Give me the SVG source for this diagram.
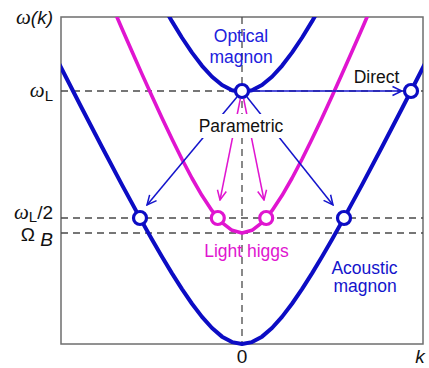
<svg xmlns="http://www.w3.org/2000/svg" width="429" height="368" viewBox="0 0 429 368">
<style>
.frame{fill:none;stroke:#6e6e6e;stroke-width:1.5}
.dash{fill:none;stroke:#4a4a4a;stroke-width:1.3;stroke-dasharray:7 5}
.blue{fill:none;stroke:#0c0cc4;stroke-width:4;stroke-linejoin:round;stroke-linecap:round}
.pink{fill:none;stroke:#e015d0;stroke-width:3.6;stroke-linejoin:round;stroke-linecap:round}
.cb{fill:#fff;stroke:#0c0cc4;stroke-width:3.2}
.cp{fill:#fff;stroke:#e015d0;stroke-width:3.2}
.ab{fill:none;stroke:#1414cc;stroke-width:1.5}
.ap{fill:none;stroke:#e015d0;stroke-width:1.5}
.t{font-family:"Liberation Sans",Arial,sans-serif;font-size:17.5px}
.ax{font-family:"Liberation Sans",Arial,sans-serif;font-size:19px;fill:#111}
.gr{font-family:"Liberation Serif","Times New Roman",serif;font-style:italic;font-size:21px;fill:#111}
</style>
<defs>
<clipPath id="clip"><rect x="61" y="17" width="362" height="333"/></clipPath>
<marker id="mb" viewBox="-10 -6 11 12" refX="0" refY="0" markerWidth="11" markerHeight="12" markerUnits="userSpaceOnUse" orient="auto"><path d="M-9.5,-4.5 L0,0 L-9.5,4.5" fill="none" stroke="#1414cc" stroke-width="1.5"/></marker>
<marker id="mp" viewBox="-10 -6 11 12" refX="0" refY="0" markerWidth="11" markerHeight="12" markerUnits="userSpaceOnUse" orient="auto"><path d="M-9.5,-4.5 L0,0 L-9.5,4.5" fill="none" stroke="#e015d0" stroke-width="1.5"/></marker>
</defs>
<rect width="429" height="368" fill="#fff"/>
<g id="axes">
<rect class="frame" x="61" y="17" width="362" height="327"/>
<line class="dash" x1="242" y1="17" x2="242" y2="344"/>
<line class="dash" x1="61" y1="91" x2="423" y2="91"/>
<line class="dash" x1="61" y1="218" x2="423" y2="218"/>
<line class="dash" x1="61" y1="233" x2="423" y2="233"/>
<text class="ax" x="53" y="24" text-anchor="end"><tspan class="gr" font-size="21">ω</tspan><tspan font-style="italic">(k)</tspan></text>
<text class="ax" x="53" y="97" text-anchor="end"><tspan class="gr">ω</tspan><tspan font-size="15" dy="4">L</tspan></text>
<text class="ax" x="53" y="219" text-anchor="end"><tspan class="gr">ω</tspan><tspan font-size="15" dy="3">L</tspan><tspan dy="-3">/2</tspan></text>
<text class="ax" x="53" y="241" text-anchor="end">Ω <tspan font-style="italic" dy="5">B</tspan></text>
<text class="ax" x="242" y="363" text-anchor="middle" font-size="17">0</text>
<text class="ax" x="420" y="363" text-anchor="middle" font-style="italic" font-size="18">k</text>
</g>
<g id="curves" clip-path="url(#clip)">
<polyline id="acoustic" class="blue" points="52,49.8 61,67.52 82,108.51 102,147.04 122,184.86 142,221.62 152,239.43 162,256.73 172,273.36 182,289.12 192,303.75 202,316.87 212,328.02 222,336.63 232,342.11 242,344 252,342.11 262,336.63 272,328.02 282,316.87 292,303.75 302,289.12 312,273.36 322,256.73 332,239.43 342,221.62 362,184.86 382,147.04 402,108.51 423,67.52 432,49.8"/>
<polyline id="optical" class="blue" points="162,3.94 172,21.41 182,37.75 192,52.66 202,65.81 212,76.76 222,85.04 232,90.23 242,92 252,90.23 262,85.04 272,76.76 282,65.81 292,52.66 302,37.75 312,21.41 322,3.94"/>
<polyline id="higgs" class="pink" points="112,5.6 122,28.69 132,51.55 142,74.11 152,96.3 162,118 172,139.04 182,159.23 192,178.23 202,195.58 212,210.64 222,222.55 232,230.3 242,233 252,230.3 262,222.55 272,210.64 282,195.58 292,178.23 302,159.23 312,139.04 322,118 332,96.3 342,74.11 352,51.55 362,28.69 372,5.6"/>
</g>
<g id="connectors">
<line class="ab" x1="249" y1="91" x2="402" y2="91" marker-end="url(#mb)"/>
<line class="ab" x1="237" y1="97" x2="147" y2="205" marker-end="url(#mb)"/>
<line class="ab" x1="247" y1="97" x2="333" y2="205" marker-end="url(#mb)"/>
<line class="ap" x1="240.4" y1="98.5" x2="220" y2="200" marker-end="url(#mp)"/>
<line class="ap" x1="243.6" y1="98.5" x2="264" y2="200" marker-end="url(#mp)"/>
</g>
<g id="labels">
<rect x="197" y="114" width="89" height="24" fill="#fff"/>
<text class="t" x="241" y="132" text-anchor="middle" font-size="18" fill="#111">Parametric</text>
<text class="t" x="376.5" y="83" text-anchor="middle" fill="#111">Direct</text>
<text class="t" x="241" y="41.5" text-anchor="middle" fill="#2020dd">Optical</text>
<text class="t" x="241" y="63" text-anchor="middle" fill="#2020dd">magnon</text>
<text class="t" x="246.5" y="256.5" text-anchor="middle" fill="#e015d0">Light higgs</text>
<text class="t" x="364.5" y="273.5" text-anchor="middle" fill="#1414cc">Acoustic</text>
<text class="t" x="365" y="292" text-anchor="middle" fill="#1414cc">magnon</text>
</g>
<g id="node-optical"><circle class="cb" cx="242" cy="91" r="6.5"/></g>
<g id="node-direct"><circle class="cb" cx="411" cy="91" r="6.5"/></g>
<g id="node-acoustic-left"><circle class="cb" cx="140" cy="218" r="6.5"/></g>
<g id="node-acoustic-right"><circle class="cb" cx="344" cy="218" r="6.5"/></g>
<g id="node-higgs-left"><circle class="cp" cx="217.8" cy="218" r="6.5"/></g>
<g id="node-higgs-right"><circle class="cp" cx="266.2" cy="218" r="6.5"/></g>
</svg>
